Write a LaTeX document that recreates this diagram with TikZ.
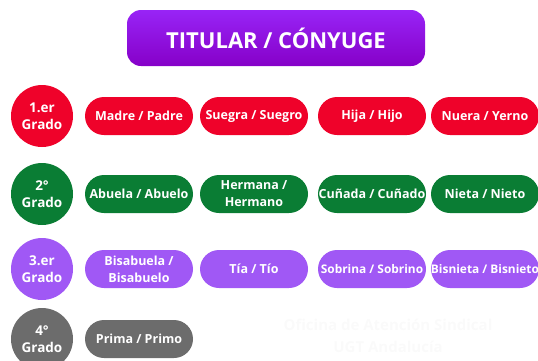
\documentclass[tikz,border=0pt]{standalone}
\usepackage{fontspec}
\setmainfont{Open Sans}
\usetikzlibrary{positioning}
\definecolor{rojo}{RGB}{239,2,42}
\definecolor{verde}{RGB}{10,125,52}
\definecolor{lila}{RGB}{160,88,245}
\definecolor{gris}{RGB}{108,108,108}
\definecolor{moradoA}{RGB}{152,36,246}
\definecolor{moradoB}{RGB}{134,0,200}
\tikzset{
    grado/.style={
           circle,
           minimum size=62pt,
           inner sep=0pt,
           text=white,
           align=center,
           font=\bfseries\fontsize{13.5}{17}\selectfont,
           },
    pariente/.style={
           rectangle,
           rounded corners=19pt,
           minimum width=108pt,
           minimum height=38pt,
           inner sep=0pt,
           text=white,
           align=center,
           font=\bfseries\fontsize{12.5}{17}\selectfont,
           },
    estrecho/.style={
           font=\bfseries\fontsize{11.9}{17}\selectfont,
           },
    titulo/.style={
           rectangle,
           rounded corners=14pt,
           minimum width=298pt,
           minimum height=56pt,
           top color=moradoA,
           bottom color=moradoB,
           text=white,
           font=\bfseries\fontsize{22}{24}\selectfont,
           },
}

\begin{document}
\begin{tikzpicture}[x=1pt,y=1pt]
 \useasboundingbox (0,0) rectangle (538,-360);
 \clip (0,0) rectangle (538,-360);

 \node[titulo] (TITULAR) at (276,-38) {TITULAR / CÓNYUGE};

 % 1.er grado
 \node[grado, fill=rojo] (G1) at (42,-116) {1.er\\Grado};
 \node[pariente, fill=rojo, node distance=97pt, right of=G1] (MADRE) {Madre / Padre};
 \node[pariente, fill=rojo, node distance=115pt, right of=MADRE] (SUEGRA) {Suegra / Suegro};
 \node[pariente, fill=rojo, node distance=118pt, right of=SUEGRA] (HIJA) {Hija / Hijo};
 \node[pariente, fill=rojo, node distance=113pt, right of=HIJA] (NUERA) {Nuera / Yerno};

 % 2º grado
 \node[grado, fill=verde, node distance=78pt, below of=G1] (G2) {2°\\Grado};
 \node[pariente, fill=verde, node distance=97pt, right of=G2] (ABUELA) {Abuela / Abuelo};
 \node[pariente, fill=verde, node distance=115pt, right of=ABUELA] (HERMANA) {Hermana /\\Hermano};
 \node[pariente, fill=verde, node distance=118pt, right of=HERMANA] (CUNADA) {Cuñada / Cuñado};
 \node[pariente, fill=verde, node distance=113pt, right of=CUNADA] (NIETA) {Nieta / Nieto};

 % 3.er grado
 \node[grado, fill=lila, node distance=75pt, below of=G2] (G3) {3.er\\Grado};
 \node[pariente, fill=lila, node distance=97pt, right of=G3] (BISABUELA) {Bisabuela /\\Bisabuelo};
 \node[pariente, fill=lila, node distance=115pt, right of=BISABUELA] (TIA) {Tía / Tío};
 \node[pariente, estrecho, fill=lila, node distance=118pt, right of=TIA] (SOBRINA) {Sobrina / Sobrino};
 \node[pariente, estrecho, fill=lila, node distance=113pt, right of=SOBRINA] (BISNIETA) {Bisnieta / Bisnieto};

 % 4º grado
 \node[grado, fill=gris, node distance=70pt, below of=G3] (G4) {4°\\Grado};
 \node[pariente, fill=gris, node distance=97pt, right of=G4] (PRIMA) {Prima / Primo};

 \node[align=center, text=black!2, font=\bfseries\fontsize{15}{22}\selectfont] (MARCA) at (388,-336)
 {Oficina de Atención Sindical\\UGT Andalucía};
\end{tikzpicture}
\end{document}
